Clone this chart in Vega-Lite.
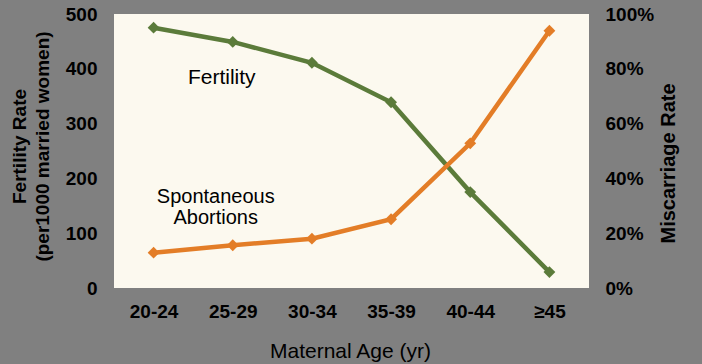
{
  "$schema": "https://vega.github.io/schema/vega-lite/v6.json",
  "width": 475,
  "height": 274,
  "autosize": {"type": "none"},
  "padding": {"left": 114, "top": 14, "right": 113, "bottom": 76},
  "background": "#808080",
  "config": {
    "view": {"fill": "#FCF9EF", "stroke": null},
    "font": "Liberation Sans",
    "axis": {
      "grid": false, "domain": false, "ticks": false,
      "labelFont": "Liberation Sans", "labelFontWeight": "bold", "labelFontSize": 19, "labelColor": "#000000",
      "titleFont": "Liberation Sans", "titleColor": "#000000"
    }
  },
  "data": {
    "values": [
      {"age": "20-24", "fertility": 475, "miscarriage": 0.129},
      {"age": "25-29", "fertility": 449, "miscarriage": 0.156},
      {"age": "30-34", "fertility": 411, "miscarriage": 0.180},
      {"age": "35-39", "fertility": 339, "miscarriage": 0.251},
      {"age": "40-44", "fertility": 175, "miscarriage": 0.528},
      {"age": "≥45", "fertility": 29, "miscarriage": 0.939}
    ]
  },
  "encoding": {
    "x": {
      "field": "age", "type": "ordinal",
      "scale": {"type": "point", "padding": 0.5, "domain": ["20-24", "25-29", "30-34", "35-39", "40-44", "≥45"]},
      "axis": {
        "labelAngle": 0, "labelPadding": 14,
        "title": "Maternal Age (yr)", "titleFontSize": 21, "titleFontWeight": "normal",
        "titleX": 236, "titleY": 63, "titleBaseline": "middle", "titleAlign": "center"
      }
    }
  },
  "layer": [
    {
      "layer": [
        {
          "mark": {"type": "line", "color": "#5B7B3A", "strokeWidth": 4.5,
                   "point": {"shape": "diamond", "size": 140, "filled": true, "color": "#5B7B3A", "opacity": 1}},
          "encoding": {
            "y": {
              "field": "fertility", "type": "quantitative",
              "scale": {"domain": [0, 500]},
              "axis": {
                "values": [0, 100, 200, 300, 400, 500], "labelPadding": 17,
                "title": ["Fertility Rate", "(per1000 married women)"],
                "titleFontSize": 19, "titleFontWeight": "bold", "titleLineHeight": 23,
                "titleAngle": -90, "titleX": -95, "titleY": 132, "titleAlign": "center", "titleBaseline": "middle"
              }
            }
          }
        },
        {
          "data": {"values": [{"age": "25-29", "fertility": 383, "label": "Fertility"}]},
          "mark": {"type": "text", "fontSize": 21, "color": "#000000", "dx": -11, "baseline": "middle", "align": "center"},
          "encoding": {
            "y": {"field": "fertility", "type": "quantitative"},
            "text": {"field": "label"}
          }
        },
        {
          "data": {"values": [{"age": "25-29", "fertility": 166, "label": ["Spontaneous", "Abortions"]}]},
          "mark": {"type": "text", "fontSize": 20, "color": "#000000", "dx": -17, "baseline": "middle", "align": "center", "lineHeight": 21},
          "encoding": {
            "y": {"field": "fertility", "type": "quantitative"},
            "text": {"field": "label"}
          }
        }
      ]
    },
    {
      "mark": {"type": "line", "color": "#E37D27", "strokeWidth": 4.5,
               "point": {"shape": "diamond", "size": 140, "filled": true, "color": "#E37D27", "opacity": 1}},
      "encoding": {
        "y": {
          "field": "miscarriage", "type": "quantitative",
          "scale": {"domain": [0, 1]},
          "axis": {
            "orient": "right", "format": "%", "values": [0, 0.2, 0.4, 0.6, 0.8, 1], "labelPadding": 16,
            "title": "Miscarriage Rate", "titleFontSize": 20, "titleFontWeight": "bold",
            "titleAngle": -90, "titleX": 79, "titleY": 149, "titleAlign": "center", "titleBaseline": "middle"
          }
        }
      }
    }
  ],
  "resolve": {"scale": {"y": "independent"}}
}
